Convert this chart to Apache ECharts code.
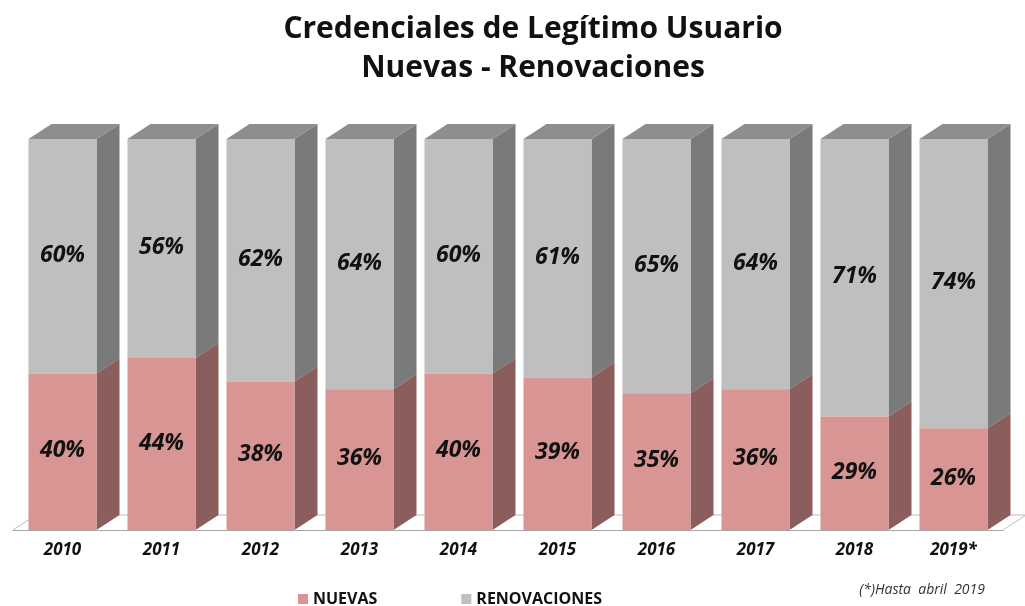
<!DOCTYPE html>
<html lang="es">
<head>
<meta charset="utf-8">
<title>Credenciales de Legítimo Usuario</title>
<script src="https://cdn.jsdelivr.net/npm/echarts@6/dist/echarts.min.js"></script>
<style>
  html, body { margin: 0; padding: 0; background: #fff; }
  #chart { width: 1025px; height: 606px; }
</style>
</head>
<body>
<div id="chart"></div>
<script type="text/javascript">
    var years = ['2010', '2011', '2012', '2013', '2014', '2015', '2016', '2017', '2018', '2019*'];
    var nuevas = [40, 44, 38, 36, 40, 39, 35, 36, 29, 26];
    var renovaciones = [60, 56, 62, 64, 60, 61, 65, 64, 71, 74];

    var DX = 23, DY = -15;   // profundidad 3D
    var FONT = '"Open Sans"';

    // bloque 3D: frente + lateral (+ tapa si es el último)
    function makeBar(colors, withTop) {
        return function (params, api) {
            var i = api.value(0);
            var lo = api.coord([i, api.value(1)]);
            var hi = api.coord([i, api.value(2)]);
            var w = api.size([1, 0])[0] * 0.687;
            var x0 = lo[0] - w / 2, x1 = lo[0] + w / 2;
            var yb = lo[1], yt = hi[1];
            var children = [
                {type: 'polygon', shape: {points: [[x1, yb], [x1 + DX, yb + DY], [x1 + DX, yt + DY], [x1, yt]]},
                    style: {fill: colors.side}},
                {type: 'rect', shape: {x: x0, y: yt, width: w, height: yb - yt},
                    style: {fill: colors.front}}
            ];
            if (withTop) {
                children.push({type: 'polygon', shape: {points: [[x0, yt], [x0 + DX, yt + DY], [x1 + DX, yt + DY], [x1, yt]]},
                    style: {fill: colors.top}});
            }
            children.push({type: 'text', style: {
                text: api.value(3) + '%', x: lo[0], y: (yb + yt) / 2 - 1,
                align: 'center', verticalAlign: 'middle',
                font: 'italic bold 23px ' + FONT, fill: '#111'
            }});
            return {type: 'group', children: children};
        };
    }

    // piso
    function renderFloor(params, api) {
        var i = api.value(0);
        var p = api.coord([i, 0]);
        var s = api.size([1, 0])[0];
        var xl = p[0] - s / 2, xr = p[0] + s / 2, y = p[1];
        var st = {stroke: '#bdbdbd', lineWidth: 1};
        var ch = [{type: 'line', shape: {x1: xl + DX, y1: y + DY, x2: xr + DX, y2: y + DY}, style: st}];
        if (i === 0) ch.push({type: 'line', shape: {x1: xl, y1: y, x2: xl + DX, y2: y + DY}, style: st});
        if (i === years.length - 1) ch.push({type: 'line', shape: {x1: xr, y1: y, x2: xr + DX, y2: y + DY}, style: st});
        return {type: 'group', children: ch};
    }

    var dataNuevas = nuevas.map(function (v, i) { return [i, 0, v, v]; });
    var dataRenov = renovaciones.map(function (v, i) { return [i, nuevas[i], nuevas[i] + v, v]; });
    var dataFloor = years.map(function (y, i) { return [i, 0]; });

    var myChart = echarts.init(document.getElementById('chart'));
    var option = {
        animation: false,
        title: {
            text: 'Credenciales de Legítimo Usuario\nNuevas - Renovaciones',
            left: 528, top: 5, textAlign: 'center',
            textStyle: {fontFamily: FONT, fontWeight: 'bold', fontSize: 30, lineHeight: 39, color: '#111'}
        },
        legend: {
            bottom: -6, left: 293,
            itemGap: 84, itemWidth: 10, itemHeight: 10,
            icon: 'rect',
            data: ['NUEVAS', 'RENOVACIONES'],
            textStyle: {fontFamily: FONT, fontWeight: 'bold', fontSize: 16, color: '#111'}
        },
        graphic: [{
            type: 'text', right: 40, bottom: 9,
            style: {text: '(*)Hasta  abril  2019', font: 'italic 14px ' + FONT, fill: '#333'}
        }],
        grid: {left: 13, right: 22, top: 139, bottom: 76},
        xAxis: {
            type: 'category',
            data: years,
            axisLine: {lineStyle: {color: '#a6a6a6'}},
            axisTick: {length: 6, lineStyle: {color: '#a6a6a6'}},
            axisLabel: {margin: 12, fontFamily: FONT, fontStyle: 'italic', fontWeight: 'bold', fontSize: 17, color: '#111'}
        },
        yAxis: {type: 'value', min: 0, max: 100, show: false},
        series: [
            {type: 'custom', name: 'piso', renderItem: renderFloor, data: dataFloor, z: 1, silent: true},
            {type: 'custom', name: 'NUEVAS', itemStyle: {color: '#D99594'},
                renderItem: makeBar({front: '#D99594', side: '#8C5D5D'}, false),
                encode: {x: 0, y: [1, 2]}, data: dataNuevas, z: 3},
            {type: 'custom', name: 'RENOVACIONES', itemStyle: {color: '#BFBFBF'},
                renderItem: makeBar({front: '#BFBFBF', side: '#7A7A7A', top: '#8E8E8E'}, true),
                encode: {x: 0, y: [1, 2]}, data: dataRenov, z: 2}
        ]
    };
    myChart.setOption(option);
</script>
</body>
</html>
